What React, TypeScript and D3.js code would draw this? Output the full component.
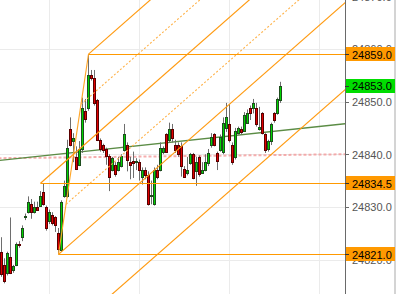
import React from 'react';
import * as d3 from 'd3';

const opens = [24814, 24821.5, 24819, 24817.5, 24820.5, 24818, 24819, 24823, 24824.25, 24828, 24829, 24830.5, 24829, 24830, 24830.25, 24832.75, 24830, 24827.25, 24828.5, 24828, 24825, 24821.75, 24832, 24832, 24844.75, 24842.5, 24839.5, 24838, 24841, 24848.25, 24848.75, 24855, 24854.5, 24850.25, 24842.75, 24841.75, 24841, 24839.75, 24837, 24838, 24837, 24837.75, 24840.75, 24841.75, 24838.5, 24838.75, 24838.5, 24838.5, 24835.75, 24837, 24836, 24832, 24830.5, 24837, 24837, 24840.5, 24843.75, 24842.75, 24844.75, 24841.75, 24841.75, 24841.5, 24837.25, 24836.5, 24838.25, 24840, 24836.75, 24839.5, 24836.5, 24837, 24838.25, 24841.75, 24843.75, 24840.25, 24840.75, 24840.5, 24845, 24845.75, 24841.75, 24839.5, 24844, 24844.75, 24844.5, 24846, 24848.75, 24848.75, 24848.75, 24844.75, 24847.75, 24843.75, 24841, 24842.5, 24847.75, 24847.75, 24850.25];
const highs = [24817.5, 24824.25, 24820.25, 24821.5, 24828, 24819, 24823.25, 24823.5, 24826.5, 24828.75, 24832, 24831.5, 24831, 24831, 24833, 24834.5, 24830.25, 24829.5, 24829, 24828.25, 24826, 24831.25, 24835, 24842.75, 24847, 24844, 24841.5, 24842.5, 24850.75, 24850.5, 24859, 24856, 24856, 24850.5, 24843, 24842, 24841.25, 24840, 24839.5, 24838.5, 24839.5, 24840, 24845.75, 24842.25, 24839.5, 24840.5, 24839.25, 24839, 24837.5, 24837.5, 24836.75, 24835, 24837.5, 24838, 24842.25, 24841.5, 24844, 24846, 24845.75, 24842.75, 24842.25, 24842.25, 24837.75, 24839.5, 24840.25, 24840.25, 24839.5, 24839.75, 24838.5, 24840, 24841, 24844, 24844, 24840.5, 24843.75, 24847, 24849.75, 24849.5, 24842.25, 24845, 24845.25, 24845.25, 24848, 24848.5, 24849.25, 24850.5, 24849.75, 24849, 24848, 24844, 24842.75, 24846, 24848, 24850.75, 24853.75];
const lows = [24813.5, 24816.75, 24815.5, 24817, 24817.25, 24817.5, 24818.75, 24822.25, 24823.5, 24827.5, 24828.75, 24827.75, 24828.75, 24829.25, 24830, 24830.25, 24825.5, 24826.75, 24826.5, 24825.25, 24821, 24821.5, 24831.75, 24831.75, 24841.5, 24838.5, 24837, 24837.75, 24840.25, 24846, 24848.25, 24854, 24849.25, 24842.5, 24840.5, 24840.25, 24838, 24833, 24836.75, 24835.75, 24836.75, 24837.5, 24840.5, 24836.75, 24835.25, 24835.5, 24837, 24835, 24834.25, 24835.25, 24830.25, 24830.5, 24830.25, 24835.25, 24836.75, 24840, 24840.25, 24842.25, 24842.25, 24840.25, 24839.5, 24835.75, 24835.5, 24836, 24838, 24835.25, 24834, 24835.75, 24836.25, 24836.75, 24837.75, 24841.25, 24841.5, 24837, 24840.5, 24840, 24844.25, 24842.25, 24838, 24839, 24843.75, 24843.75, 24844.25, 24845.75, 24846.5, 24847.75, 24845.25, 24844.5, 24843.75, 24840.25, 24840.5, 24841.75, 24846, 24847.5, 24849.75];
const closes = [24817, 24817.25, 24816, 24821.25, 24817.5, 24818.75, 24823, 24822.75, 24826, 24828.25, 24831, 24829, 24830, 24829.5, 24832, 24830.5, 24826, 24829, 24827, 24826.5, 24822, 24831, 24834, 24841.25, 24841.75, 24843, 24837.25, 24841, 24848.75, 24846.75, 24855, 24854.5, 24849.75, 24842.75, 24841, 24840.75, 24839.75, 24835.75, 24839.25, 24836.25, 24838.5, 24839.75, 24843.75, 24839, 24838, 24838.25, 24838.75, 24837, 24837, 24836, 24830.5, 24832.25, 24837, 24835.75, 24841.25, 24841.25, 24840.5, 24844.75, 24843, 24840.75, 24840, 24837.75, 24835.75, 24837, 24840, 24835.5, 24838.5, 24836.25, 24837, 24838.5, 24840.25, 24843.25, 24841.75, 24838.75, 24843.25, 24846, 24847, 24842.75, 24838.5, 24844.5, 24845, 24844.25, 24847.5, 24847.75, 24847.75, 24849.75, 24845.75, 24845.25, 24844, 24840.75, 24842.5, 24845.75, 24846.5, 24850.5, 24853];

const priceTicks = [24820, 24830, 24840, 24850, 24860, 24870];
const gridBars = [17, 47, 77, 107];
const levelPrices = [24859, 24834.5, 24821];
const levelStartBars = [30, 14, 20];
const pitchforkBars = [14, 30, 20];
const pitchforkPrices = [24834.5, 24859, 24821];
const pitchforkLevels = [-2, -1, -0.5, 0, 0.5, 1, 2];
const trendBars = [0, 115.5];
const trendPrices = [24838.8, 24845.8];
const dashBars = [0, 115.5];
const dashPrices = [24839.25, 24840];

const FONT = "'Liberation Sans', Arial, sans-serif";

export default function App() {
  const W = 398;
  const H = 294;
  const plotRight = 345;
  const x = d3.scaleLinear().domain([0, 115.5]).range([-1.5, 345]);
  const y = d3.scaleLinear().domain([24820, 24860]).range([259.6, 48.9]);
  const cy = (p: number) => Math.round(y(p)) + 0.5;
  const line = d3.line<[number, number]>();

  const trendPts: [number, number][] = trendBars.map((b, i) => [x(b), y(trendPrices[i])]);
  const dashPts: [number, number][] = dashBars.map((b, i) => [x(b), y(dashPrices[i])]);

  const P = pitchforkBars.map((b, i) => [x(b), y(pitchforkPrices[i])] as [number, number]);
  const [P1, P2, P3] = P;
  const M: [number, number] = [(P2[0] + P3[0]) / 2, (P2[1] + P3[1]) / 2];
  const dir = [M[0] - P1[0], M[1] - P1[1]];
  const half = [P3[0] - M[0], P3[1] - M[1]];
  const forkLines = pitchforkLevels.map((k) => {
    const s: [number, number] = k === 0 ? P1 : [M[0] + k * half[0], M[1] + k * half[1]];
    const t = (plotRight + 20 - s[0]) / dir[0];
    const e: [number, number] = [s[0] + t * dir[0], s[1] + t * dir[1]];
    return { k, d: line([s, e]) as string, dotted: !Number.isInteger(k) };
  });

  const last = closes[closes.length - 1];
  const markers = [
    { p: levelPrices[0], fill: '#ff9900' },
    { p: last, fill: '#00dd00' },
    { p: levelPrices[1], fill: '#ff9900' },
    { p: levelPrices[2], fill: '#ff9900' },
  ];

  return (
    <svg width={W} height={H} style={{ position: 'fixed', left: 0, top: 0, display: 'block', background: '#fff' }}>
      <defs>
        <clipPath id="plot">
          <rect x={0} y={0} width={plotRight} height={H} />
        </clipPath>
      </defs>
      <rect x={0} y={0} width={W} height={H} fill="#fff" />
      <g clipPath="url(#plot)">
        {priceTicks.map((p) => (
          <line key={'h' + p} x1={0} x2={plotRight} y1={cy(p)} y2={cy(p)} stroke="#ebebeb" strokeWidth={1} />
        ))}
        {gridBars.map((b) => (
          <line key={'v' + b} x1={x(b)} x2={x(b)} y1={0} y2={H} stroke="#ebebeb" strokeWidth={1} />
        ))}
        <path d={line(dashPts) as string} stroke="#f29a9a" strokeOpacity={0.8} strokeWidth={2} strokeDasharray="3 2" fill="none" />
        <path d={line(trendPts) as string} stroke="#5b8c45" strokeWidth={1.4} fill="none" />
        {closes.map((c, i) => {
          const cx = x(i);
          const o = opens[i];
          const up = c >= o;
          const yTop = Math.round(y(Math.max(o, c)));
          const yBot = Math.round(y(Math.min(o, c)));
          return (
            <g key={'c' + i}>
              <line x1={cx} x2={cx} y1={y(highs[i])} y2={y(lows[i])} stroke="#6e6e6e" strokeWidth={1} />
              <rect
                x={cx - 1}
                y={yTop + 0.5}
                width={2}
                height={Math.max(1, yBot - yTop)}
                fill={up ? '#00d400' : '#e00000'}
                stroke={up ? '#1d4d1d' : '#5a0000'}
                strokeWidth={1}
              />
            </g>
          );
        })}
        {levelPrices.map((p, i) => (
          <line key={'l' + i} x1={x(levelStartBars[i])} x2={plotRight} y1={cy(p)} y2={cy(p)} stroke="#ff9900" strokeWidth={1.2} />
        ))}
        <path d={line([P3, P2]) as string} stroke="#ffa526" strokeWidth={1.1} fill="none" />
        {forkLines.map((f) => (
          <path
            key={'f' + f.k}
            d={f.d}
            stroke={f.dotted ? '#ffb249' : '#ff9a10'}
            strokeWidth={f.dotted ? 1.1 : 1.15}
            strokeDasharray={f.dotted ? '2 2' : undefined}
            fill="none"
          />
        ))}
      </g>
      <rect x={394} y={0} width={2} height={H} fill="#d4d4d4" />
      <line x1={plotRight + 0.5} x2={plotRight + 0.5} y1={0} y2={H} stroke="#6a6a6a" strokeWidth={1} />
      {priceTicks.map((p) => (
        <g key={'t' + p}>
          <line x1={plotRight} x2={plotRight + 4} y1={cy(p)} y2={cy(p)} stroke="#6a6a6a" strokeWidth={1} />
          <text x={352} y={y(p) + 4.5} fontSize={11} fontFamily={FONT} fill="#555">
            {d3.format('.1f')(p)}
          </text>
        </g>
      ))}
      {markers.map((m, i) => (
        <g key={'m' + i}>
          <rect x={plotRight + 1} y={Math.round(y(m.p)) - 7} width={49} height={14} fill={m.fill} />
          <line x1={plotRight} x2={plotRight + 4} y1={cy(m.p)} y2={cy(m.p)} stroke="#333" strokeWidth={1} />
          <text x={352} y={y(m.p) + 4.5} fontSize={11} fontFamily={FONT} fill="#000">
            {d3.format('.1f')(m.p)}
          </text>
        </g>
      ))}
    </svg>
  );
}
